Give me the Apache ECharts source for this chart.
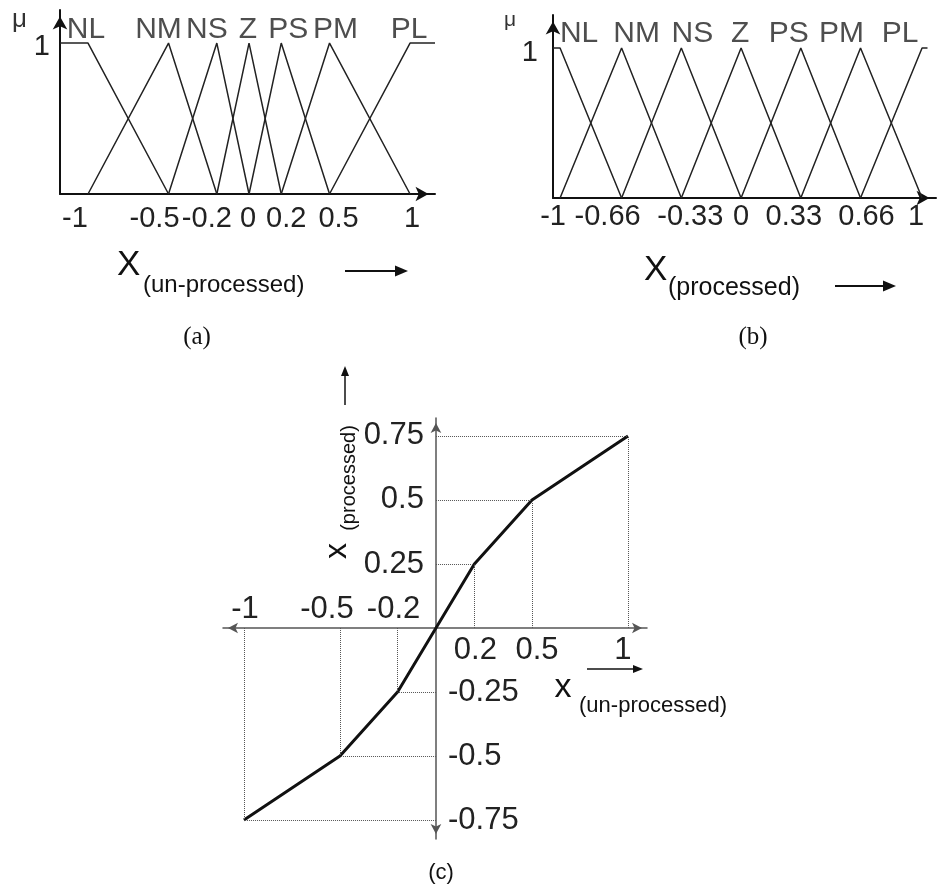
<!DOCTYPE html>
<html>
<head>
<meta charset="utf-8">
<script src="https://cdn.jsdelivr.net/npm/echarts@6/dist/echarts.min.js"></script>
<style>
  html, body { margin: 0; padding: 0; background: #ffffff; }
  #chart { width: 937px; height: 888px; }
</style>
</head>
<body>
<div id="chart"></div>
<script>
// ---------- data ----------
// linguistic terms shared by both partitions
const termNames = ['NL', 'NM', 'NS', 'Z', 'PS', 'PM', 'PL'];

// (a) partition of the un-processed input: triangle peaks and universe of discourse
const peaksRaw = [-1, -0.5, -0.2, 0, 0.2, 0.5, 1];
const universeRaw = [-1.174, 1.155];
const ticksRaw = ['-1', '-0.5', '-0.2', '0', '0.2', '0.5', '1'];

// (b) partition of the processed input: evenly spread peaks
const peaksProc = [-1, -0.66, -0.33, 0, 0.33, 0.66, 1];
const universeProc = [-1.039, 1.03];
const ticksProc = ['-1', '-0.66', '-0.33', '0', '0.33', '0.66', '1'];

// (c) piecewise-linear map x(un-processed) -> x(processed)
const mapIn = [-1, -0.5, -0.2, 0, 0.2, 0.5, 1];
const mapOut = [-0.75, -0.5, -0.25, 0, 0.25, 0.5, 0.75];
const mapTicksXNeg = ['-1', '-0.5', '-0.2'];
const mapTicksXPos = ['0.2', '0.5', '1'];
const mapTicksYPos = ['0.75', '0.5', '0.25'];
const mapTicksYNeg = ['-0.25', '-0.5', '-0.75'];

// ---------- styling ----------
const SANS = '"Liberation Sans", Arial, sans-serif';
const SERIF = '"Liberation Serif", "Times New Roman", serif';
const INK = '#111';
const tickFont = { fontFamily: SANS, fontSize: 29, color: '#222' };
const tickFontC = { fontFamily: SANS, fontSize: 31, color: '#222' };
const termFont = { fontFamily: SANS, fontSize: 30, color: '#222' };

// small horizontal nudges (px) applied to individual labels
const nudgeTicksRaw = [-13, -14, -10, -1, 5, 9, 2];
const nudgeTicksProc = [-7, -14, 9, 0, -7, 6, -6];
const nudgeTermsRaw = [-2, -10, -10, -1, 7, 6, -1];
const nudgeTermsProc = [19, 15, 11, -1, -12, -19, -22];
const nudgeMapXNeg = [1, -13, -4];
const nudgeMapXPos = [1, 5, -5];

// layout of the mapping plot: the two axes cross at the origin
const gridC = { left: 223, top: 418, width: 424, height: 421 };
const rangeCX = [-1.109, 1.099];
const rangeCY = [-0.824, 0.82];
const zeroCX = gridC.left + (0 - rangeCX[0]) / (rangeCX[1] - rangeCX[0]) * gridC.width;
const zeroCY = gridC.top + (rangeCY[1] - 0) / (rangeCY[1] - rangeCY[0]) * gridC.height;

// triangles between neighbouring peaks, shoulders out to the universe edges
function buildSets(peaks, universe) {
  return peaks.map(function (p, i) {
    const left = i === 0 ? [universe[0], 1] : [peaks[i - 1], 0];
    const right = i === peaks.length - 1 ? [universe[1], 1] : [peaks[i + 1], 0];
    return [left, [p, 1], right];
  });
}

// axis labels at given values, each one shifted sideways through rich padding
function tickLabels(texts, nudges, font, extra) {
  const values = texts.map(Number);
  const rich = {};
  texts.forEach(function (t, i) {
    const d = nudges ? nudges[i] : 0;
    const pad = extra && extra.padding ? extra.padding.slice() : [0, 0, 0, 0];
    if (d < 0) pad[1] += -2 * d; else pad[3] += 2 * d;
    rich['t' + i] = Object.assign({}, font, { padding: pad });
  });
  return Object.assign({
    show: true,
    customValues: values,
    formatter: function (val) {
      const i = values.findIndex(function (v) { return Math.abs(v - val) < 1e-9; });
      return i < 0 ? '' : '{t' + i + '|' + texts[i] + '}';
    },
    rich: rich
  }, font, extra ? { margin: extra.margin } : {});
}

function arrowAxisLine(symbols, size, offsets, color, width) {
  return {
    show: true,
    onZero: false,
    symbol: symbols,
    symbolSize: size,
    symbolOffset: offsets,
    lineStyle: { color: color, width: width }
  };
}

function arrowEl(x1, y1, x2, y2, len, wid, lw) {
  const dx = x2 - x1, dy = y2 - y1, L = Math.hypot(dx, dy);
  const ux = dx / L, uy = dy / L;
  const bx = x2 - ux * len, by = y2 - uy * len;
  const px = -uy * wid / 2, py = ux * wid / 2;
  return {
    type: 'group',
    children: [
      { type: 'line', shape: { x1: x1, y1: y1, x2: bx, y2: by }, style: { stroke: INK, lineWidth: lw } },
      { type: 'polygon', shape: { points: [[x2, y2], [bx + px, by + py], [bx - px, by - py]] }, style: { fill: INK } }
    ]
  };
}

function textEl(x, y, text, size, family, opts) {
  opts = opts || {};
  const align = opts.align || 'left';
  return {
    type: 'text',
    x: x, y: y,
    rotation: opts.rotation || 0,
    style: {
      text: text,
      fontSize: size,
      fontFamily: family,
      fill: opts.fill || INK,
      align: align, textAlign: align,
      verticalAlign: 'middle', textVerticalAlign: 'middle'
    }
  };
}

const setsRaw = buildSets(peaksRaw, universeRaw);
const setsProc = buildSets(peaksProc, universeProc);

function setSeries(sets, axisIdx) {
  return sets.map(function (pts, i) {
    return {
      type: 'line', name: termNames[i],
      xAxisIndex: axisIdx, yAxisIndex: axisIdx,
      data: pts, symbol: 'none', clip: false,
      lineStyle: { color: '#222', width: 1.5 },
      silent: true
    };
  });
}

function termSeries(peaks, nudges, axisIdx, dy) {
  return {
    type: 'scatter',
    xAxisIndex: axisIdx, yAxisIndex: axisIdx,
    symbolSize: 1,
    itemStyle: { color: 'rgba(0,0,0,0)' },
    silent: true,
    data: peaks.map(function (p, i) {
      return {
        value: [p, 1],
        label: { offset: [nudges[i], dy] }
      };
    }),
    label: Object.assign({
      show: true,
      position: 'inside',
      formatter: function (p) { return termNames[p.dataIndex]; }
    }, termFont)
  };
}

// dotted guides from every break point of the map to both axes
const guideLines = [];
mapIn.forEach(function (x, i) {
  const y = mapOut[i];
  if (x === 0) return;
  guideLines.push([{ coord: [0, y] }, { coord: [x, y] }]);
  guideLines.push([{ coord: [x, 0] }, { coord: [x, y] }]);
});

const noGridExtras = { outerBoundsMode: 'none', containLabel: false };
const hidden = { show: false };

const option = {
  animation: false,
  backgroundColor: '#ffffff',
  grid: [
    Object.assign({ left: 60, top: 10, width: 375, height: 184 }, noGridExtras),
    Object.assign({ left: 553, top: 15, width: 383, height: 183 }, noGridExtras),
    Object.assign({}, gridC, noGridExtras)
  ],
  xAxis: [
    {
      gridIndex: 0, type: 'value', min: universeRaw[0], max: universeRaw[1],
      axisLine: arrowAxisLine(['none', 'arrow'], [11, 13], [0, -6.5], INK, 2),
      axisTick: hidden, splitLine: hidden,
      axisLabel: tickLabels(ticksRaw, nudgeTicksRaw, tickFont, { margin: 10 })
    },
    {
      gridIndex: 1, type: 'value', min: -1.039, max: 1.077,
      axisLine: arrowAxisLine(['none', 'arrow'], [11, 13], [0, -6.5], INK, 2),
      axisTick: hidden, splitLine: hidden,
      axisLabel: tickLabels(ticksProc, nudgeTicksProc, tickFont, { margin: 4 })
    },
    {
      gridIndex: 2, type: 'value', min: rangeCX[0], max: rangeCX[1], position: 'bottom',
      offset: -(gridC.top + gridC.height - zeroCY),
      axisLine: arrowAxisLine(['arrow', 'arrow'], [8, 10], [5, -5], '#555', 1.5),
      axisTick: hidden, splitLine: hidden,
      axisLabel: tickLabels(mapTicksXPos, nudgeMapXPos, tickFontC, { margin: 7 })
    },
    {
      gridIndex: 2, type: 'value', min: rangeCX[0], max: rangeCX[1], position: 'top',
      offset: -(zeroCY - gridC.top),
      axisLine: { show: false, onZero: false },
      axisTick: hidden, splitLine: hidden,
      axisLabel: tickLabels(mapTicksXNeg, nudgeMapXNeg, tickFontC, { margin: 3 })
    }
  ],
  yAxis: [
    {
      gridIndex: 0, type: 'value', min: 0, max: 1.219,
      axisLine: arrowAxisLine(['none', 'arrow'], [11, 13], [0, -6.5], INK, 2),
      axisTick: hidden, splitLine: hidden,
      axisLabel: tickLabels(['1'], null, tickFont, { margin: 10, padding: [8, 0, 0, 0] })
    },
    {
      gridIndex: 1, type: 'value', min: 0, max: 1.22,
      axisLine: arrowAxisLine(['none', 'arrow'], [11, 13], [0, -6.5], INK, 2),
      axisTick: hidden, splitLine: hidden,
      axisLabel: tickLabels(['1'], null, tickFont, { margin: 15, padding: [10, 0, 0, 0] })
    },
    {
      gridIndex: 2, type: 'value', min: rangeCY[0], max: rangeCY[1], position: 'left',
      offset: -(zeroCX - gridC.left),
      axisLine: arrowAxisLine(['arrow', 'arrow'], [8, 10], [5, -5], '#555', 1.5),
      axisTick: hidden, splitLine: hidden,
      axisLabel: tickLabels(mapTicksYPos, null, tickFontC, { margin: 12 })
    },
    {
      gridIndex: 2, type: 'value', min: rangeCY[0], max: rangeCY[1], position: 'right',
      offset: -(gridC.left + gridC.width - zeroCX),
      axisLine: { show: false, onZero: false },
      axisTick: hidden, splitLine: hidden,
      axisLabel: tickLabels(mapTicksYNeg, null, tickFontC, { margin: 12 })
    }
  ],
  series: [].concat(
    setSeries(setsRaw, 0),
    [termSeries(peaksRaw, nudgeTermsRaw, 0, -13)],
    setSeries(setsProc, 1),
    [termSeries(peaksProc, nudgeTermsProc, 1, -14)],
    [{
      type: 'line',
      name: 'map',
      xAxisIndex: 2, yAxisIndex: 2,
      data: mapIn.map(function (x, i) { return [x, mapOut[i]]; }),
      symbol: 'none',
      lineStyle: { color: INK, width: 3 },
      silent: true,
      markLine: {
        silent: true,
        symbol: ['none', 'none'],
        label: { show: false },
        lineStyle: { type: 'dotted', color: '#555', width: 1 },
        data: guideLines
      }
    }]
  ),
  graphic: [
    // membership axis symbols
    textEl(12, 20, 'μ', 26, SANS, { fill: '#333' }),
    textEl(504, 20, 'μ', 21, SANS, { fill: '#333' }),
    // (a) axis title
    textEl(117, 265, 'X', 35, SANS),
    textEl(143, 285, '(un-processed)', 24, SANS),
    arrowEl(345, 271, 408, 271, 13, 11, 2),
    // (b) axis title
    textEl(644, 270, 'X', 35, SANS),
    textEl(668, 288, '(processed)', 25, SANS),
    arrowEl(835, 286, 896, 286, 13, 11, 2),
    // (c) axis titles
    textEl(563, 688, 'x', 34, SANS, { align: 'center' }),
    textEl(653, 706, '(un-processed)', 22, SANS, { align: 'center' }),
    arrowEl(587, 669, 643, 669, 10, 8, 1.5),
    textEl(337, 551, 'x', 32, SANS, { align: 'center', rotation: Math.PI / 2 }),
    textEl(349, 478, '(processed)', 20, SANS, { align: 'center', rotation: Math.PI / 2 }),
    arrowEl(345, 405, 345, 366, 10, 8, 1.5),
    // captions
    textEl(197, 337, '(a)', 25, SERIF, { align: 'center' }),
    textEl(753, 337, '(b)', 25, SERIF, { align: 'center' }),
    textEl(441, 873, '(c)', 22, SANS, { align: 'center' })
  ]
};

const chart = echarts.init(document.getElementById('chart'), null, { renderer: 'canvas' });
chart.setOption(option);
</script>
</body>
</html>
